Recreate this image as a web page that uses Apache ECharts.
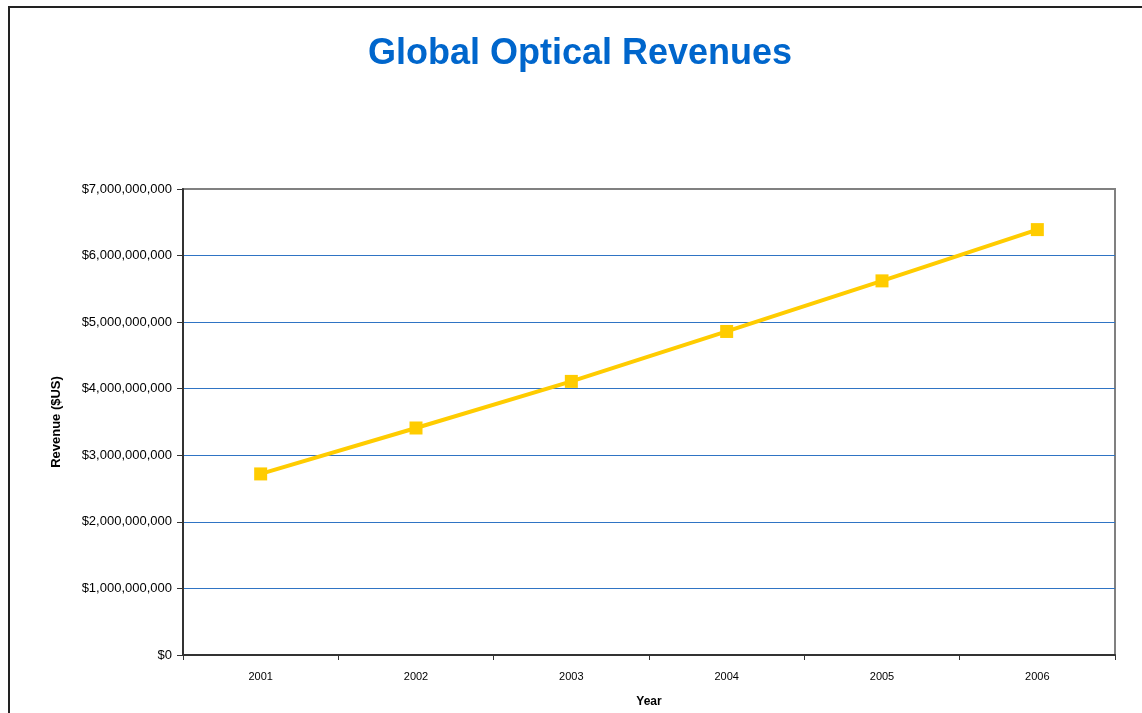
<!DOCTYPE html>
<html>
<head>
<meta charset="utf-8">
<script src="https://cdn.jsdelivr.net/npm/echarts@6/dist/echarts.min.js"></script>
<style>
  html, body { margin: 0; padding: 0; background: #fff; }
  #chart { width: 1142px; height: 713px; }
</style>
</head>
<body>
<div id="chart"></div>
<script>
// Revenue by year, in US dollars
const years = ['2001', '2002', '2003', '2004', '2005', '2006'];
const revenues = [2720000000, 3410000000, 4110000000, 4860000000, 5620000000, 6390000000];

function dollars(v) {
  return '$' + Math.round(v).toString().replace(/\B(?=(\d{3})+(?!\d))/g, ',');
}

const chart = echarts.init(document.getElementById('chart'));
chart.setOption({
  backgroundColor: '#ffffff',
  animation: false,
  title: {
    text: 'Global Optical Revenues',
    left: 575,
    textAlign: 'center',
    top: 31,
    textStyle: {
      fontFamily: 'Liberation Sans, Arial, sans-serif',
      fontSize: 36,
      fontWeight: 'bold',
      color: '#0066CC'
    }
  },
  graphic: [{
    type: 'rect',
    shape: { x: 9, y: 7, width: 1300, height: 800 },
    style: { fill: null, stroke: '#222', lineWidth: 2 },
    silent: true,
    z: -10
  }],
  grid: {
    left: 183, right: 27, top: 189, bottom: 56,
    show: true,
    borderColor: '#808080',
    borderWidth: 2,
    backgroundColor: 'transparent'
  },
  xAxis: {
    type: 'category',
    data: years,
    boundaryGap: true,
    name: 'Year',
    nameLocation: 'middle',
    nameGap: 41,
    nameTextStyle: {
      fontFamily: 'Liberation Sans, Arial, sans-serif',
      fontSize: 12,
      fontWeight: 'bold',
      color: '#000'
    },
    axisLine: { lineStyle: { color: '#333', width: 2 } },
    axisTick: { show: true, length: 5, lineStyle: { color: '#333', width: 1 } },
    axisLabel: {
      margin: 16,
      fontFamily: 'Liberation Sans, Arial, sans-serif',
      fontSize: 11,
      color: '#000'
    },
    splitLine: { show: false }
  },
  yAxis: {
    type: 'value',
    min: 0,
    max: 7000000000,
    interval: 1000000000,
    name: 'Revenue ($US)',
    nameLocation: 'middle',
    nameGap: 120,
    nameRotate: 90,
    nameTextStyle: {
      fontFamily: 'Liberation Sans, Arial, sans-serif',
      fontSize: 13,
      fontWeight: 'bold',
      color: '#000'
    },
    axisLine: { show: true, lineStyle: { color: '#333', width: 2 } },
    axisTick: { show: true, length: 6, lineStyle: { color: '#333', width: 1 } },
    axisLabel: {
      margin: 11,
      fontFamily: 'Liberation Sans, Arial, sans-serif',
      fontSize: 13,
      color: '#000',
      formatter: dollars
    },
    splitLine: {
      show: true,
      showMinLine: false,
      showMaxLine: false,
      lineStyle: { color: '#2f74c4', width: 1 }
    }
  },
  series: [{
    type: 'line',
    data: revenues,
    symbol: 'rect',
    symbolSize: 13,
    lineStyle: { color: '#FFCC00', width: 4 },
    itemStyle: { color: '#FFCC00' }
  }]
});
</script>
</body>
</html>
